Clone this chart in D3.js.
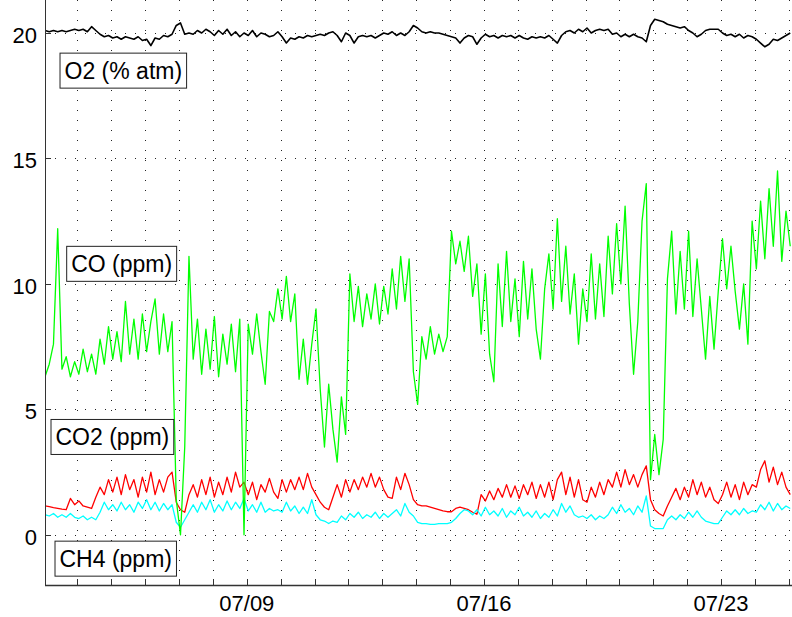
<!DOCTYPE html>
<html>
<head>
<meta charset="utf-8">
<script src="https://cdn.jsdelivr.net/npm/d3@7"></script>
<style>
  body { margin: 0; background: #fff; }
  svg { display: block; font-family: "Liberation Sans", Arial, Helvetica, sans-serif; }
</style>
</head>
<body>
<div id="chart"></div>
<script>
// readings every 3 hours, first one 07/03 01:00
var startTime = new Date(2010, 6, 3, 1, 0),
    stepHours = 3;

var o2 = [20.1, 20.05, 20.1, 20.05, 20.1, 20.05, 20.1, 20.15, 20.1, 20.15,
  20.05, 20.25, 20.1, 19.95, 19.85, 19.9, 19.8, 19.85, 19.75, 19.85,
  19.8, 19.75, 19.85, 19.7, 19.75, 19.5, 19.8, 19.75, 19.9, 19.85,
  19.95, 20.3, 20.4, 19.95, 20.0, 19.95, 20.1, 20.0, 20.15, 20.05,
  19.9, 20.1, 19.95, 20.15, 19.9, 20.05, 19.85, 20.0, 19.9, 20.1,
  19.85, 20.0, 19.95, 19.85, 19.9, 20.05, 19.85, 19.6, 19.8, 19.75,
  19.85, 19.8, 19.9, 19.85, 19.9, 19.95, 19.9, 20.0, 20.05, 19.9,
  19.65, 20.0, 19.9, 19.6, 19.85, 19.9, 19.85, 19.9, 19.8, 19.9,
  20.0, 19.95, 20.05, 19.9, 20.0, 19.9, 20.05, 20.3, 20.2, 20.05,
  20.0, 20.05, 20.0, 20.0, 19.95, 19.9, 19.85, 19.8, 19.6, 19.8,
  19.9, 19.85, 19.55, 19.8, 19.95, 19.85, 19.9, 19.8, 19.9, 19.85,
  19.9, 19.8, 19.9, 19.8, 19.75, 19.85, 19.8, 19.85, 19.8, 19.9,
  19.75, 19.6, 19.9, 20.05, 20.1, 20.0, 20.15, 20.05, 20.2, 20.0,
  20.1, 20.15, 20.1, 20.15, 19.95, 20.0, 19.85, 19.95, 19.85, 19.95,
  19.85, 19.8, 19.65, 20.3, 20.55, 20.5, 20.45, 20.35, 20.3, 20.25,
  20.2, 20.25, 20.1, 20.0, 19.85, 19.95, 20.1, 20.15, 20.15, 20.15,
  20.0, 19.9, 19.95, 19.85, 19.95, 19.8, 19.9, 19.85, 19.75, 19.6,
  19.45, 19.55, 19.75, 19.7, 19.8, 19.9, 20.0];

var co = [6.3, 6.8, 7.6, 12.2, 6.6, 7.1, 6.3, 6.9, 6.4, 7.4,
  6.5, 7.2, 6.4, 7.8, 6.8, 8.3, 7.0, 8.1, 6.9, 9.3,
  7.2, 8.6, 7.0, 8.8, 7.3, 8.5, 9.4, 7.2, 8.8, 7.3,
  8.5, 1.4, 0.0, 3.5, 11.1, 7.0, 8.6, 6.4, 8.2, 6.6,
  8.7, 6.3, 8.0, 6.8, 8.4, 6.5, 8.6, 0.0, 8.4, 7.2,
  8.8, 7.3, 6.0, 8.9, 8.5, 9.8, 8.6, 10.3, 8.5, 9.6,
  6.2, 7.8, 6.0, 7.6, 9.0, 5.8, 3.5, 6.0, 4.2, 2.9,
  5.5, 4.0, 10.4, 8.5, 9.9, 8.3, 9.6, 8.6, 10.0, 8.4,
  9.9, 8.8, 10.6, 9.0, 11.1, 9.3, 11.0, 6.5, 5.2, 7.9,
  7.0, 8.3, 7.2, 8.0, 7.3, 7.9, 12.1, 10.8, 11.7, 10.5,
  11.9, 9.5, 10.8, 8.0, 10.4, 7.2, 6.1, 10.8, 8.3, 11.3,
  8.5, 10.2, 7.9, 10.9, 8.6, 10.6, 8.2, 7.0, 9.8, 11.2,
  9.0, 12.6, 9.3, 11.5, 8.8, 10.4, 7.6, 9.8, 8.5, 11.2,
  8.6, 10.8, 8.7, 11.9, 9.6, 12.4, 10.0, 13.1, 9.2, 6.4,
  8.5, 12.5, 14.0, 2.2, 4.0, 2.4, 3.8, 10.2, 12.1, 8.8,
  11.3, 9.0, 12.1, 8.7, 11.0, 9.0, 7.0, 9.5, 7.4, 9.7,
  11.8, 9.8, 11.5, 9.7, 8.2, 10.0, 7.6, 12.5, 10.6, 13.3,
  11.0, 13.8, 11.5, 14.5, 10.9, 12.9, 11.5];

var co2 = [1.15, 1.12, 1.08, 1.05, 1.02, 1.0, 1.45, 1.2, 1.35, 1.15,
  1.1, 1.05, 1.5, 1.9, 1.6, 2.2, 1.7, 2.3, 1.6, 2.4,
  1.8, 2.2, 1.5, 2.3, 1.7, 2.5, 1.6, 2.2, 1.7, 2.3,
  2.5, 1.3, 1.0, 0.9, 1.6, 2.0, 1.5, 2.2, 1.6, 2.3,
  1.5, 2.1, 1.6, 2.3, 1.7, 2.5, 1.9, 2.1, 1.6, 2.1,
  1.4, 2.0, 1.7, 2.25, 1.7, 1.45, 2.2, 1.7, 2.2, 1.8,
  2.3, 1.8, 2.45, 1.9, 1.6, 1.3, 1.1, 1.0, 1.5, 2.0,
  1.5, 2.2, 1.7, 2.2, 1.8, 2.3, 1.9, 2.45, 1.9, 2.3,
  1.8, 1.5, 1.45, 2.3, 1.8, 2.45, 2.0, 1.4, 1.2, 1.15,
  1.15, 1.1, 1.05, 1.0, 0.95, 0.92, 0.92, 1.05, 1.1, 1.05,
  1.0, 0.9, 0.82, 1.6, 1.35, 1.75, 1.4, 1.85, 1.5, 2.0,
  1.5, 1.95, 1.45, 2.0, 1.6, 2.1, 1.45, 2.0, 1.5, 2.1,
  1.4, 2.2, 2.5, 1.6, 2.3, 1.5, 2.2, 1.4, 1.3, 1.9,
  1.5, 2.1, 1.6, 2.2, 1.9, 2.5, 1.9, 2.6, 2.0, 2.4,
  1.9, 2.4, 2.75, 1.4, 1.0, 0.85, 0.75, 1.15, 1.5, 1.85,
  1.4, 1.9, 1.5, 2.2, 1.6, 2.1, 1.5, 1.9, 1.4, 1.25,
  1.6, 2.1, 1.5, 2.0, 1.4, 2.1, 1.6, 2.0, 1.9, 2.6,
  2.95, 2.1, 2.7, 2.0, 2.5, 1.9, 1.6];

var ch4 = [0.8, 0.75, 0.85, 0.7, 0.8, 0.7, 0.85, 0.7, 0.65, 0.75,
  0.6, 0.7, 0.6, 0.9, 1.3, 1.0, 1.2, 0.95, 1.3, 1.0,
  1.2, 0.9, 1.3, 1.05, 1.4, 1.0, 1.3, 0.95, 1.25, 1.0,
  1.2, 0.5, 0.3, 0.6, 0.9, 1.2, 0.9, 1.3, 1.0, 1.4,
  0.9, 1.2, 0.95, 1.35, 1.0, 1.3, 1.05, 1.45, 0.95, 1.2,
  0.9, 1.3, 0.9, 1.05, 0.95, 1.0, 0.9, 1.3, 0.95, 1.15,
  0.85, 1.1, 0.85, 1.4, 0.8, 0.6, 0.55, 0.45, 0.55, 0.5,
  0.75, 0.6, 0.85, 0.7, 0.9, 0.65, 0.8, 0.7, 0.9, 0.65,
  0.85, 0.7, 0.85, 1.0, 0.75, 1.25, 0.9, 0.75, 0.5, 0.45,
  0.45, 0.42, 0.42, 0.45, 0.45, 0.45, 0.5, 0.65, 0.85, 1.0,
  0.95, 0.8, 1.0, 0.75, 1.1, 0.8, 0.95, 0.75, 1.05, 0.7,
  0.95, 0.8, 1.1, 0.75, 0.9, 0.7, 0.95, 0.65, 0.85, 0.7,
  1.0, 0.75, 1.25, 0.9, 1.15, 0.8, 0.7, 0.75, 0.65, 0.8,
  0.6, 0.75, 0.65, 0.8, 1.1, 0.85, 1.2, 0.9, 1.05, 0.8,
  1.15, 0.9, 1.55, 0.35, 0.25, 0.25, 0.25, 0.6, 0.75, 0.6,
  0.8, 0.65, 0.9, 0.7, 0.95, 0.7, 0.55, 0.5, 0.45, 0.45,
  0.7, 0.95, 0.8, 1.0, 0.8, 1.05, 0.85, 0.95, 0.9, 1.2,
  1.0, 1.3, 0.95, 1.25, 1.0, 1.15, 1.05];

var yTicks = [0, 5, 10, 15, 20];
var xLabelDays = [9, 16, 23];   // July days that get a date label

// text boxes: left edge as fractional July day, vertical middle as value
var labels = [
  {text: "O2 (% atm)", day: 3.485, value: 18.5},
  {text: "CO (ppm)",   day: 3.682, value: 10.8},
  {text: "CO2 (ppm)",  day: 3.219, value: 3.9},
  {text: "CH4 (ppm)",  day: 3.337, value: -0.95}
];

var series = [
  {values: co2, color: "#ff0000", width: 1.3},
  {values: ch4, color: "#00ffff", width: 1.3},
  {values: co,  color: "#00ff00", width: 1.3},
  {values: o2,  color: "#000000", width: 1.6}
];

var W = 792, H = 617;
var margin = {top: 0, right: 0, bottom: 32, left: 45},
    width = W - margin.left - margin.right,
    height = H - margin.top - margin.bottom;

function julyDay(d) {
  return new Date(startTime.getFullYear(), 6, 1).getTime() + (d - 1) * 864e5;
}
function timeAt(i) {
  return new Date(startTime.getTime() + i * stepHours * 36e5);
}

var x = d3.scaleTime()
    .domain([startTime, new Date(2010, 6, 25, 2, 15)])
    .range([0, width]);

var y = d3.scaleLinear()
    .domain([-2, 21.315])
    .range([height, 0]);

var svg = d3.select("#chart").append("svg")
    .attr("width", W)
    .attr("height", H)
  .append("g")
    .attr("transform", "translate(" + margin.left + "," + margin.top + ")");

svg.append("clipPath").attr("id", "clip")
  .append("rect").attr("width", width).attr("height", height);

var days = d3.timeDay.range(d3.timeDay.ceil(x.domain()[0]), x.domain()[1]);

// dotted grid
var grid = svg.append("g")
    .attr("stroke", "#222")
    .attr("stroke-width", 1)
    .attr("stroke-dasharray", "1,9");

grid.selectAll(".vgrid")
    .data(days)
  .enter().append("line")
    .attr("x1", function(d) { return Math.round(x(d)) + 0.5; })
    .attr("x2", function(d) { return Math.round(x(d)) + 0.5; })
    .attr("y1", 0)
    .attr("y2", height);

grid.selectAll(".hgrid")
    .data(yTicks)
  .enter().append("line")
    .attr("x1", 0)
    .attr("x2", width)
    .attr("y1", function(d) { return Math.round(y(d)) + 0.5; })
    .attr("y2", function(d) { return Math.round(y(d)) + 0.5; });

// the four traces
var line = d3.line()
    .x(function(d, i) { return x(timeAt(i)); })
    .y(function(d) { return y(d); });

svg.append("g")
    .attr("clip-path", "url(#clip)")
  .selectAll("path")
    .data(series)
  .enter().append("path")
    .attr("fill", "none")
    .attr("stroke", function(d) { return d.color; })
    .attr("stroke-width", function(d) { return d.width; })
    .attr("stroke-linejoin", "round")
    .attr("d", function(d) { return line(d.values); });

// axes lines and inward ticks
var axis = svg.append("g").attr("stroke", "#333").attr("stroke-width", 1);

axis.append("line")
    .attr("x1", 0.5).attr("x2", 0.5)
    .attr("y1", 0).attr("y2", height);
axis.append("line")
    .attr("x1", 0).attr("x2", width)
    .attr("y1", height + 0.5).attr("y2", height + 0.5)
    .attr("stroke-width", 1.5);

axis.selectAll(".ytick")
    .data(yTicks)
  .enter().append("line")
    .attr("x1", 0).attr("x2", 6)
    .attr("y1", function(d) { return Math.round(y(d)) + 0.5; })
    .attr("y2", function(d) { return Math.round(y(d)) + 0.5; });

axis.selectAll(".xtick")
    .data(days)
  .enter().append("line")
    .attr("x1", function(d) { return Math.round(x(d)) + 0.5; })
    .attr("x2", function(d) { return Math.round(x(d)) + 0.5; })
    .attr("y1", height)
    .attr("y2", height - 6);

// tick labels
svg.selectAll(".ylabel")
    .data(yTicks)
  .enter().append("text")
    .attr("x", -8)
    .attr("y", function(d) { return y(d) + 10; })
    .attr("text-anchor", "end")
    .attr("font-size", 22)
    .text(function(d) { return d; });

var fmt = d3.timeFormat("%m/%d");
svg.selectAll(".xlabel")
    .data(xLabelDays)
  .enter().append("text")
    .attr("x", function(d) { return x(julyDay(d)); })
    .attr("y", height + 26)
    .attr("text-anchor", "middle")
    .attr("font-size", 22)
    .text(function(d) { return fmt(new Date(julyDay(d))); });

// boxed series names
var box = svg.selectAll(".label")
    .data(labels)
  .enter().append("g")
    .attr("transform", function(d) {
      return "translate(" + x(julyDay(d.day)) + "," + y(d.value) + ")"; });

box.append("rect")
    .attr("fill", "#fff")
    .attr("stroke", "#222")
    .attr("stroke-width", 1);

box.append("text")
    .attr("x", 4.5)
    .attr("y", 8)
    .attr("font-size", 23)
    .text(function(d) { return d.text; });

box.select("rect").each(function() {
  var w = this.parentNode.querySelector("text").getComputedTextLength();
  d3.select(this)
      .attr("x", 0)
      .attr("y", -17.5)
      .attr("width", w + 9)
      .attr("height", 35);
});
</script>
</body>
</html>
